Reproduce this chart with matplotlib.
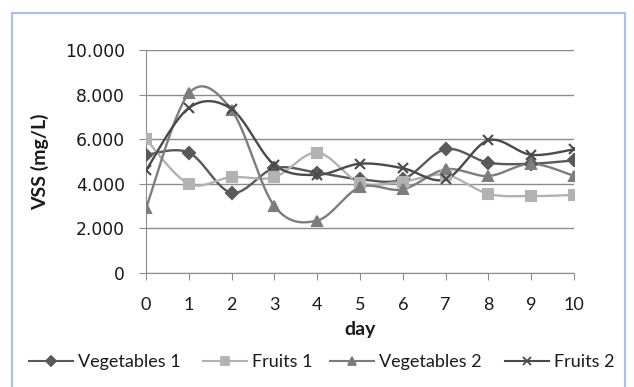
import numpy as np
import matplotlib
matplotlib.use("Agg")
import matplotlib.pyplot as plt
from matplotlib.lines import Line2D
from matplotlib.patches import Rectangle

plt.rcParams['font.family'] = ['Lato', 'DejaVu Sans']

days = list(range(11))
vegetables_1 = [5.30, 5.40, 3.60, 4.70, 4.50, 4.20, 4.20, 5.55, 4.95, 4.90, 5.05]
fruits_1 = [6.00, 4.00, 4.30, 4.30, 5.40, 4.05, 4.10, 4.40, 3.55, 3.45, 3.50]
vegetables_2 = [2.90, 8.05, 7.30, 3.00, 2.35, 3.85, 3.75, 4.65, 4.35, 4.90, 4.35]
fruits_2 = [4.60, 7.40, 7.35, 4.85, 4.40, 4.90, 4.70, 4.20, 5.95, 5.30, 5.55]
series_names = ['Vegetables 1', 'Fruits 1', 'Vegetables 2', 'Fruits 2']
y_ticks = [0, 2000, 4000, 6000, 8000, 10000]
y_tick_labels = ['0', '2.000', '4.000', '6.000', '8.000', '10.000']


def smooth(x, y, n=30):
    """Catmull-Rom style Bezier smoothing through every point."""
    x = np.asarray(x, float)
    y = np.asarray(y, float)
    xs, ys = [], []
    m = len(x)
    for i in range(m - 1):
        p0 = np.array([x[max(i - 1, 0)], y[max(i - 1, 0)]])
        p1 = np.array([x[i], y[i]])
        p2 = np.array([x[i + 1], y[i + 1]])
        p3 = np.array([x[min(i + 2, m - 1)], y[min(i + 2, m - 1)]])
        c1 = p1 + (p2 - p0) / 6.0
        c2 = p2 - (p3 - p1) / 6.0
        t = np.linspace(0, 1, n)[:, None]
        pts = ((1 - t) ** 3) * p1 + 3 * ((1 - t) ** 2) * t * c1 + 3 * (1 - t) * t ** 2 * c2 + t ** 3 * p2
        xs.append(pts[:, 0])
        ys.append(pts[:, 1])
    return np.concatenate(xs), np.concatenate(ys)


W, H = 634, 387
fig = plt.figure(figsize=(W / 100, H / 100), dpi=100)
fig.patch.set_facecolor('white')

# light blue frame around the chart area
fig.patches.append(Rectangle((12 / W, -0.05), (625 - 12) / W, 1.05 - 13 / H,
                             transform=fig.transFigure, fill=False,
                             edgecolor='#a9c1ea', linewidth=1.6, zorder=0))

ax = fig.add_axes([146 / W, 114 / H, (574 - 146) / W, (273 - 50) / H])

styles = [
    dict(color='#595959', marker='D', ms=6.0),
    dict(color='#b2b2b2', marker='s', ms=7.0),
    dict(color='#7d7d7d', marker='^', ms=7.5),
    dict(color='#4a4a4a', marker='x', ms=7.0),
]
data = [vegetables_1, fruits_1, vegetables_2, fruits_2]

handles = []
for name, vals, st in zip(series_names, data, styles):
    yv = [v * 1000 for v in vals]
    sx, sy = smooth(days, yv)
    ax.plot(sx, sy, color=st['color'], lw=1.7, zorder=3)
    ax.plot(days, yv, linestyle='none', marker=st['marker'], ms=st['ms'],
            color=st['color'], mec=st['color'], mew=1.5, zorder=4)
    handles.append(Line2D([], [], color=st['color'], lw=1.5, marker=st['marker'],
                          ms=st['ms'] * 0.85, mec=st['color'], mew=1.3))

ax.set_xlim(0, 10)
ax.set_ylim(0, 10000)
ax.set_yticks(y_ticks)
ax.set_yticklabels(y_tick_labels, fontfamily='DejaVu Sans', fontsize=12.3)
ax.set_xticks(days)
ax.yaxis.grid(True, color='#8c8c8c', lw=1.0)
ax.set_axisbelow(True)
for s in ['top', 'right']:
    ax.spines[s].set_visible(False)
for s in ['left', 'bottom']:
    ax.spines[s].set_color('#8c8c8c')
ax.tick_params(axis='both', colors='#8c8c8c', labelcolor='#1a1a1a',
               length=5, direction='out')
ax.tick_params(axis='x', pad=12, labelsize=13)
ax.tick_params(axis='y', pad=10)

ax.set_xlabel('day', fontsize=14, fontweight='bold', color='#1a1a1a', labelpad=6)
ax.yaxis.set_label_coords((40 - 146) / (574 - 146), 0.5)
ax.set_ylabel('VSS (mg/L)', fontsize=14, fontweight='bold', color='#1a1a1a',
              va='center')

# one legend entry per series, laid out in a row under the axes
legend_x = [29, 203, 330, 505]
for h, name, lx in zip(handles, series_names, legend_x):
    lg = fig.legend([h], [name], loc='center left', bbox_to_anchor=(lx / W, 1 - 362 / H),
                    frameon=False, fontsize=13, handlelength=2.45, handletextpad=0.25,
                    borderpad=0, borderaxespad=0)
    for t in lg.get_texts():
        t.set_color('#1a1a1a')

fig.savefig('out.png', dpi=100, facecolor='white')
